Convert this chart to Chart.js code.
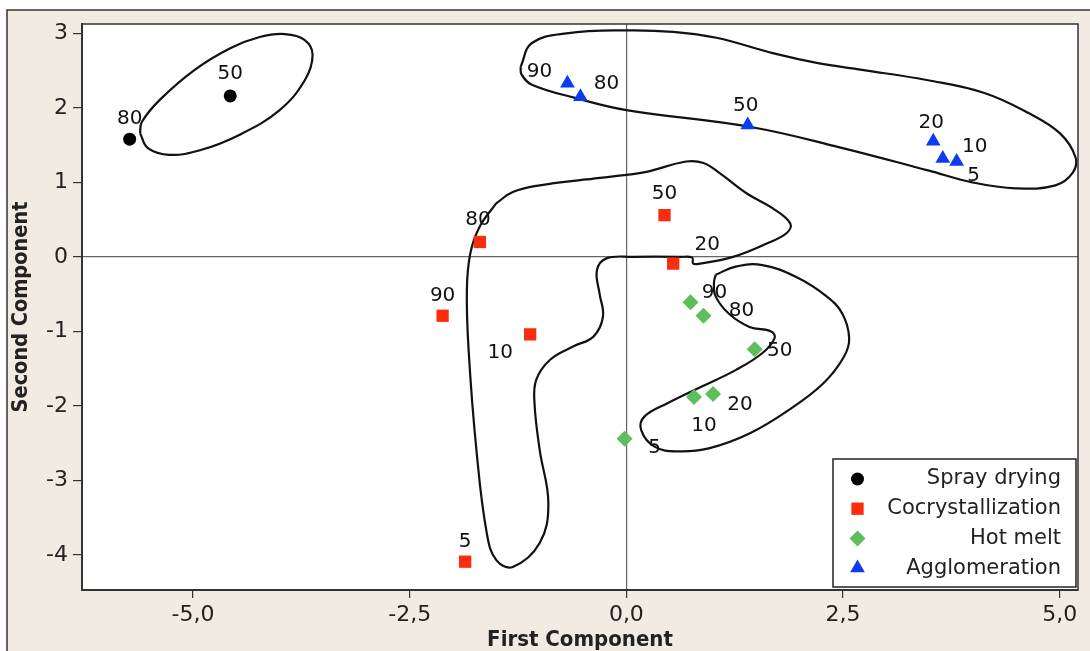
<!DOCTYPE html>
<html>
<head>
<meta charset="utf-8">
<script src="https://cdn.jsdelivr.net/npm/chart.js"></script>
<style>
html, body { margin: 0; padding: 0; background: #fff; }
canvas { display: block; }
</style>
</head>
<body>
<canvas id="pcaChart" width="1090" height="651"></canvas>
<script>
// scores (first component, second component)
const sprayX = [-5.73, -4.57];
const sprayY = [1.58, 2.16];
const sprayTags = ['80', '50'];

const cocrX = [-1.69, 0.44, 0.54, -2.12, -1.11, -1.86];
const cocrY = [0.20, 0.56, -0.09, -0.79, -1.04, -4.09];
const cocrTags = ['80', '50', '20', '90', '10', '5'];

const hotX = [0.74, 0.89, 1.48, 1.00, 0.78, -0.02];
const hotY = [-0.61, -0.79, -1.24, -1.84, -1.88, -2.44];
const hotTags = ['90', '80', '50', '20', '10', '5'];

const aggX = [-0.68, -0.53, 1.40, 3.54, 3.65, 3.81];
const aggY = [2.33, 2.15, 1.77, 1.55, 1.32, 1.28];
const aggTags = ['90', '80', '50', '20', '10', '5'];

const xTicks = [-5, -2.5, 0, 2.5, 5];
const yTicks = [-4, -3, -2, -1, 0, 1, 2, 3];

// hand drawn group outlines (in data units)
const sprayHull = [[-5.61,1.66],[-5.52,1.46],[-5.27,1.37],[-4.92,1.43],[-4.46,1.64],[-4.00,1.97],[-3.71,2.37],[-3.62,2.71],[-3.71,2.91],[-3.94,2.99],[-4.23,2.95],[-4.57,2.80],[-4.98,2.51],[-5.38,2.11],[-5.59,1.81]];
const aggHull = [[-1.22,2.55],[-1.09,2.87],[-0.69,3.00],[0.00,3.04],[0.54,3.02],[1.04,2.94],[1.70,2.73],[2.21,2.60],[2.72,2.51],[3.48,2.37],[4.13,2.20],[4.64,1.93],[5.00,1.66],[5.18,1.34],[5.15,1.13],[4.95,0.96],[4.49,0.92],[3.99,1.00],[3.48,1.16],[2.46,1.47],[1.45,1.74],[0.00,1.97],[-0.58,2.13],[-1.09,2.31],[-1.21,2.45]];
const cocrHull = [[-1.50,0.72],[-1.31,0.87],[-1.00,0.96],[-0.46,1.04],[0.00,1.10],[0.23,1.14],[0.69,1.28],[0.89,1.26],[1.08,1.12],[1.39,0.85],[1.69,0.65],[1.89,0.45],[1.85,0.32],[1.62,0.18],[1.23,0.00],[0.85,-0.09],[0.77,-0.09],[0.76,-0.01],[0.62,0.00],[0.08,0.00],[-0.23,-0.02],[-0.34,-0.18],[-0.31,-0.49],[-0.27,-0.80],[-0.38,-1.07],[-0.61,-1.20],[-0.88,-1.38],[-1.04,-1.65],[-1.06,-1.96],[-1.00,-2.59],[-0.90,-3.31],[-1.00,-3.84],[-1.31,-4.16],[-1.50,-4.07],[-1.61,-3.71],[-1.73,-2.59],[-1.82,-1.25],[-1.84,-0.44],[-1.80,0.05],[-1.69,0.41]];
const hotHull = [[1.03,-0.24],[1.26,-0.13],[1.57,-0.11],[1.96,-0.27],[2.31,-0.53],[2.49,-0.76],[2.57,-1.09],[2.51,-1.34],[2.27,-1.70],[1.88,-2.05],[1.42,-2.37],[0.95,-2.57],[0.60,-2.61],[0.33,-2.55],[0.17,-2.32],[0.21,-2.14],[0.48,-1.96],[0.87,-1.74],[1.26,-1.52],[1.57,-1.29],[1.71,-1.09],[1.67,-1.00],[1.42,-0.94],[1.18,-0.76],[1.03,-0.53],[1.01,-0.35]];

// where each number sits relative to its marker, px
const sprayTagPos = [[0,-20],[0,-22]];
const cocrTagPos = [[-2,-22],[0,-21],[34,-19],[0,-20],[-30,18],[0,-20]];
const hotTagPos = [[24,-10],[38,-5],[25,2],[27,11],[10,29],[30,9]];
const aggTagPos = [[-28,-11],[26,-13],[-2,-19],[-2,-19],[32,-12],[17,14]];

function toPoints(xs, ys) {
    return xs.map((x, i) => ({ x: x, y: ys[i] }));
}
function closed(hull) {
    const pts = hull.map(p => ({ x: p[0], y: p[1] }));
    pts.push(pts[0]);
    return pts;
}
function outline(hull) {
    return {
        data: closed(hull),
        showLine: true,
        borderColor: '#111',
        borderWidth: 2.2,
        pointRadius: 0,
        tension: 0.4,
        fill: false
    };
}
function group(label, xs, ys, tags, tagPos, style, radius, color) {
    return {
        label: label,
        data: toPoints(xs, ys),
        tags: tags,
        tagPos: tagPos,
        pointStyle: style,
        pointRadius: radius,
        pointBackgroundColor: color,
        pointBorderColor: color,
        pointBorderWidth: 0,
        showLine: false
    };
}

Chart.defaults.font.family = 'DejaVu Sans';
Chart.defaults.color = '#222';

const backdrop = {
    id: 'backdrop',
    beforeDraw(chart) {
        const c = chart.ctx, a = chart.chartArea;
        c.save();
        c.fillStyle = '#fff';
        c.fillRect(0, 0, chart.width, chart.height);
        c.fillStyle = '#f2ebe1';
        c.fillRect(7, 10, chart.width, chart.height);
        c.strokeStyle = '#333';
        c.lineWidth = 1.5;
        c.beginPath();
        c.moveTo(7, chart.height);
        c.lineTo(7, 10);
        c.lineTo(chart.width, 10);
        c.stroke();
        c.fillStyle = '#fff';
        c.fillRect(a.left, a.top, a.right - a.left, a.bottom - a.top);
        c.restore();
    },
    afterDraw(chart) {
        const c = chart.ctx, a = chart.chartArea;
        c.save();
        c.strokeStyle = '#333';
        c.lineWidth = 1.5;
        c.strokeRect(a.left, a.top, a.right - a.left, a.bottom - a.top);
        c.restore();
    }
};

const pointTags = {
    id: 'pointTags',
    afterDatasetsDraw(chart) {
        const c = chart.ctx;
        const xs = chart.scales.x, ys = chart.scales.y;
        c.save();
        c.font = '20px "DejaVu Sans"';
        c.fillStyle = '#111';
        c.textAlign = 'center';
        c.textBaseline = 'middle';
        chart.data.datasets.forEach(ds => {
            if (!ds.tags) return;
            ds.data.forEach((p, i) => {
                const off = ds.tagPos[i];
                c.fillText(ds.tags[i], xs.getPixelForValue(p.x) + off[0], ys.getPixelForValue(p.y) + off[1]);
            });
        });
        c.restore();
    }
};

function marker(c, style, r, x, y) {
    if (Chart.helpers && Chart.helpers.drawPoint) {
        Chart.helpers.drawPoint(c, { pointStyle: style, radius: r, rotation: 0, borderWidth: 0 }, x, y);
        return;
    }
    c.beginPath();
    c.arc(x, y, r, 0, Math.PI * 2);
    c.fill();
}

const boxLegend = {
    id: 'boxLegend',
    afterDraw(chart) {
        const c = chart.ctx, a = chart.chartArea;
        const items = chart.data.datasets.filter(ds => ds.tags);
        const w = 243, rowH = 29.7;
        const h = 128;
        const left = a.right - w - 2, top = a.bottom - h - 3;
        c.save();
        c.fillStyle = '#fff';
        c.fillRect(left, top, w, h);
        c.strokeStyle = '#222';
        c.lineWidth = 1.5;
        c.strokeRect(left, top, w, h);
        c.font = '21px "DejaVu Sans"';
        c.textAlign = 'right';
        c.textBaseline = 'middle';
        items.forEach((ds, i) => {
            const y = top + 20 + i * rowH;
            c.fillStyle = ds.pointBackgroundColor;
            marker(c, ds.pointStyle, ds.pointRadius, left + 24.5, y);
            c.fillStyle = '#222';
            c.fillText(ds.label, left + w - 15, y);
        });
        c.restore();
    }
};

const zeroLine = ctx => (ctx.tick && ctx.tick.value === 0) ? '#666' : 'rgba(0,0,0,0)';

const ctx = document.getElementById('pcaChart').getContext('2d');
const chart = new Chart(ctx, {
    type: 'scatter',
    data: {
        datasets: [
            group('Spray drying', sprayX, sprayY, sprayTags, sprayTagPos, 'circle', 6.5, '#000000'),
            group('Cocrystallization', cocrX, cocrY, cocrTags, cocrTagPos, 'rect', 8.7, '#fa2d0f'),
            group('Hot melt', hotX, hotY, hotTags, hotTagPos, 'rectRot', 8, '#5cbf5c'),
            group('Agglomeration', aggX, aggY, aggTags, aggTagPos, 'triangle', 8.5, '#0b3cf3'),
            outline(sprayHull),
            outline(aggHull),
            outline(cocrHull),
            outline(hotHull)
        ]
    },
    options: {
        responsive: false,
        animation: false,
        devicePixelRatio: 1,
        layout: { padding: { left: 0, top: 24, right: 12, bottom: 0 } },
        plugins: {
            legend: { display: false },
            tooltip: { enabled: false }
        },
        scales: {
            x: {
                type: 'linear',
                min: -6.28,
                max: 5.21,
                afterBuildTicks: s => { s.ticks = xTicks.map(v => ({ value: v })); },
                afterFit: s => { s.height = 61; },
                ticks: {
                    autoSkip: false,
                    maxRotation: 0,
                    padding: 4,
                    font: { size: 22 },
                    color: '#222',
                    callback: v => v.toFixed(1).replace('.', ',')
                },
                grid: { color: zeroLine, tickColor: '#333', tickLength: 8, lineWidth: 1.2 },
                border: { color: '#333', width: 2 },
                title: {
                    display: true,
                    text: 'First Component',
                    color: '#222',
                    font: { family: 'DejaVu Sans Condensed', weight: 'bold', size: 22, lineHeight: 1 },
                    padding: { top: 0, bottom: 0 }
                }
            },
            y: {
                type: 'linear',
                min: -4.47,
                max: 3.125,
                afterBuildTicks: s => { s.ticks = yTicks.map(v => ({ value: v })); },
                afterFit: s => { s.width = 82; },
                ticks: {
                    autoSkip: false,
                    padding: 5,
                    font: { size: 22 },
                    color: '#222',
                    callback: v => String(v)
                },
                grid: { color: zeroLine, tickColor: '#333', tickLength: 9, lineWidth: 1.2 },
                border: { color: '#333', width: 2 },
                title: {
                    display: true,
                    text: 'Second Component',
                    color: '#222',
                    font: { family: 'DejaVu Sans Condensed', weight: 'bold', size: 21.5, lineHeight: 1 },
                    padding: { top: 11, bottom: 0 }
                }
            }
        }
    },
    plugins: [backdrop, pointTags, boxLegend]
});
</script>
</body>
</html>
